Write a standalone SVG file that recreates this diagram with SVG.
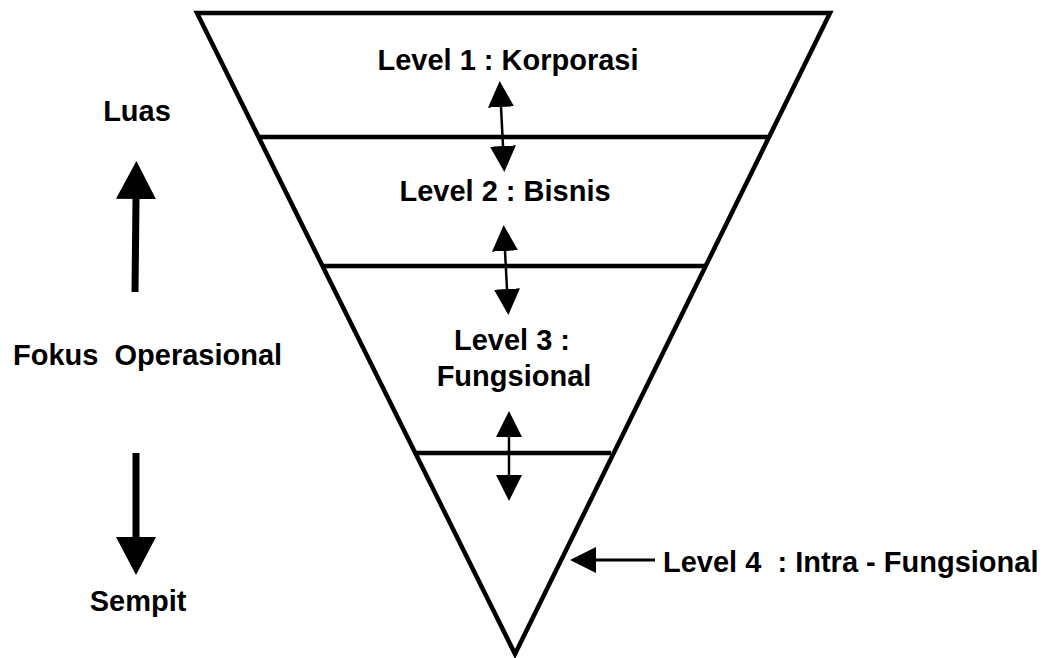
<svg xmlns="http://www.w3.org/2000/svg" width="1046" height="658" viewBox="0 0 1046 658">
  <style>
    .txt { font-family: "Liberation Sans", Arial, sans-serif; font-weight: bold; font-size: 29px; fill: #000; }
    .edge { fill: none; stroke: #000; stroke-width: 4.5; stroke-linejoin: miter; }
    .sep { stroke: #000; stroke-width: 4.5; }
    .dbl { stroke: #000; stroke-width: 2.5; fill: none; }
    .big { stroke: #000; stroke-width: 7; fill: none; }
    .ptr { stroke: #000; stroke-width: 3; fill: none; }
  </style>
  <defs>
    <marker id="headS" markerUnits="userSpaceOnUse" markerWidth="26" markerHeight="26" refX="0" refY="13" orient="auto-start-reverse" viewBox="0 0 26 26">
      <path d="M0,0 L26,13 L0,26 Z" fill="#000"/>
    </marker>
    <marker id="headB" markerUnits="userSpaceOnUse" markerWidth="38" markerHeight="40" refX="0" refY="20" orient="auto" viewBox="0 0 38 40">
      <path d="M0,0 L38,20 L0,40 Z" fill="#000"/>
    </marker>
  </defs>
  <rect width="1046" height="658" fill="#fff"/>

  <g id="funnel">
    <path class="edge" d="M197,13 L830,13 L515,654 Z"/>
    <line class="sep" x1="258" y1="137" x2="770" y2="137"/>
    <line class="sep" x1="322" y1="266" x2="707" y2="266"/>
    <line class="sep" x1="416" y1="453" x2="611" y2="453"/>
  </g>

  <g id="level1">
    <text class="txt" x="508" y="70" text-anchor="middle">Level 1 : Korporasi</text>
  </g>
  <g id="level2">
    <text class="txt" x="505" y="201" text-anchor="middle">Level 2 : Bisnis</text>
  </g>
  <g id="level3">
    <text class="txt" x="512" y="350" text-anchor="middle">Level 3 :</text>
    <text class="txt" x="514" y="386" text-anchor="middle">Fungsional</text>
  </g>
  <g id="level4">
    <text class="txt" x="663" y="572" xml:space="preserve">Level 4  : Intra - Fungsional</text>
  </g>
  <g id="luas">
    <text class="txt" x="137" y="121" text-anchor="middle">Luas</text>
  </g>
  <g id="fokus">
    <text class="txt" x="13" y="365" xml:space="preserve">Fokus  Operasional</text>
  </g>
  <g id="sempit">
    <text class="txt" x="138" y="611" text-anchor="middle">Sempit</text>
  </g>

  <g id="connectors">
    <line class="dbl" x1="501" y1="107" x2="503" y2="146" marker-start="url(#headS)" marker-end="url(#headS)"/>
    <line class="dbl" x1="505" y1="251" x2="507" y2="289" marker-start="url(#headS)" marker-end="url(#headS)"/>
    <line class="dbl" x1="509" y1="437" x2="509" y2="475" marker-start="url(#headS)" marker-end="url(#headS)"/>
    <line class="big" x1="135" y1="292" x2="136" y2="199" marker-end="url(#headB)"/>
    <line class="big" x1="136" y1="453" x2="136" y2="537" marker-end="url(#headB)"/>
    <line class="ptr" x1="655" y1="560" x2="596" y2="560" marker-end="url(#headS)"/>
  </g>
</svg>
